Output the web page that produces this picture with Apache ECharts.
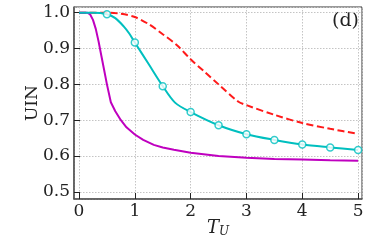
<!DOCTYPE html>
<html><head><meta charset="utf-8">
<script src="https://cdn.jsdelivr.net/npm/echarts@6/dist/echarts.min.js"></script>
<style>html,body{margin:0;padding:0;background:#fff}#c{width:374px;height:249px}</style>
</head><body><div id="c"></div>
<script>
var xTicks = [0, 1, 2, 3, 4, 5];
var yTicks = [0.5, 0.6, 0.7, 0.8, 0.9, 1.0];

var magentaX = [0, 0.15, 0.2, 0.25, 0.3, 0.35, 0.4, 0.45, 0.5, 0.57, 0.65, 0.75, 0.85, 1.0, 1.15, 1.34, 1.5, 1.7, 2, 2.5, 3, 3.5, 4, 4.5, 5];
var magentaY = [1.0, 1.0, 0.995, 0.98, 0.955, 0.92, 0.88, 0.84, 0.80, 0.75, 0.725, 0.70, 0.68, 0.66, 0.645, 0.631, 0.624, 0.6175, 0.609, 0.600, 0.595, 0.592, 0.590, 0.588, 0.587];

var cyanX = [0, 0.25, 0.5, 0.65, 0.8, 0.9, 1, 1.25, 1.5, 1.72, 2, 2.5, 3, 3.5, 4, 4.5, 5];
var cyanY = [1.0, 1.0, 0.996, 0.985, 0.962, 0.942, 0.917, 0.856, 0.795, 0.749, 0.7226, 0.686, 0.661, 0.645, 0.632, 0.624, 0.617];

var cyanMarkX = [0.5, 1, 1.5, 2, 2.5, 3, 3.5, 4, 4.5, 5];
var cyanMarkY = [0.996, 0.917, 0.795, 0.7226, 0.686, 0.661, 0.645, 0.632, 0.624, 0.617];

var redX = [0, 0.5, 0.75, 1, 1.25, 1.5, 1.75, 2, 2.25, 2.5, 2.85, 3, 3.5, 4, 4.5, 5];
var redY = [1.0, 1.0, 0.997, 0.988, 0.968, 0.94, 0.91, 0.87, 0.835, 0.80, 0.752, 0.742, 0.715, 0.692, 0.676, 0.662];

function pairs(xs, ys) { return xs.map(function (x, i) { return [x, ys[i]]; }); }
function isTick(v, arr) { return arr.some(function (t) { return Math.abs(t - v) < 1e-6; }); }

var serif = 'DejaVu Serif';
var chart = echarts.init(document.getElementById('c'));
chart.setOption({
  animation: false,
  grid: { left: 74, top: 7, right: 12, bottom: 50, show: true, borderColor: '#333', borderWidth: 1, backgroundColor: 'transparent' },
  xAxis: {
    type: 'value', min: -0.09, max: 5.07, minInterval: 1, maxInterval: 1,
    name: '{t|T}{s|U}', nameLocation: 'middle', nameGap: 19, nameMoveOverlap: false,
    nameTextStyle: { rich: {
      t: { fontFamily: serif, fontStyle: 'italic', fontSize: 18, color: '#222' },
      s: { fontFamily: serif, fontStyle: 'italic', fontSize: 12, color: '#222', verticalAlign: 'bottom', padding: [8, 0, 0, 0] }
    } },
    axisLine: { show: true, onZero: false, lineStyle: { color: '#555', width: 1.5 } },
    axisTick: { show: true, inside: true, length: 6, lineStyle: { color: '#222', width: 1 } },
    axisLabel: { fontFamily: serif, fontSize: 17, color: '#222', margin: 4, showMinLabel: false, showMaxLabel: false,
      formatter: function (v) { return isTick(v, xTicks) ? String(Math.round(v)) : ''; } },
    splitLine: { show: true, lineStyle: { color: '#c4c4c4', type: [1.5, 1.5], width: 1 } }
  },
  yAxis: {
    type: 'value', min: 0.48, max: 1.016, minInterval: 0.1, maxInterval: 0.1,
    name: 'UIN', nameLocation: 'middle', nameGap: 33, nameMoveOverlap: false,
    nameTextStyle: { fontFamily: serif, fontSize: 17, color: '#222' },
    axisLine: { show: true, onZero: false, lineStyle: { color: '#555', width: 1.5 } },
    axisTick: { show: true, inside: true, length: 6, lineStyle: { color: '#222', width: 1 } },
    axisLabel: { fontFamily: serif, fontSize: 17, color: '#222', margin: 4, showMinLabel: false, showMaxLabel: false,
      formatter: function (v) { return isTick(v, yTicks) ? v.toFixed(1) : ''; } },
    splitLine: { show: true, lineStyle: { color: '#c4c4c4', type: [1.5, 1.5], width: 1 } }
  },
  graphic: [{ type: 'text', right: 15, top: 12, style: { text: '(d)', fontFamily: serif, fontSize: 19, fill: '#222' } }],
  series: [
    { type: 'line', data: pairs(redX, redY), showSymbol: false, smooth: 0.3, lineStyle: { color: '#ff1a1a', width: 2, type: [7, 3.5] }, z: 3 },
    { type: 'line', data: pairs(magentaX, magentaY), showSymbol: false, smooth: false, lineStyle: { color: '#bf00bf', width: 2 }, z: 3 },
    { type: 'line', data: pairs(cyanX, cyanY), showSymbol: false, smooth: 0.3, lineStyle: { color: '#00bfbf', width: 2 }, z: 4 },
    { type: 'scatter', data: pairs(cyanMarkX, cyanMarkY), symbol: 'circle', symbolSize: 7,
      itemStyle: { color: '#fff', borderColor: '#00bfbf', borderWidth: 1.5 }, z: 5 }
  ]
});
</script></body></html>
